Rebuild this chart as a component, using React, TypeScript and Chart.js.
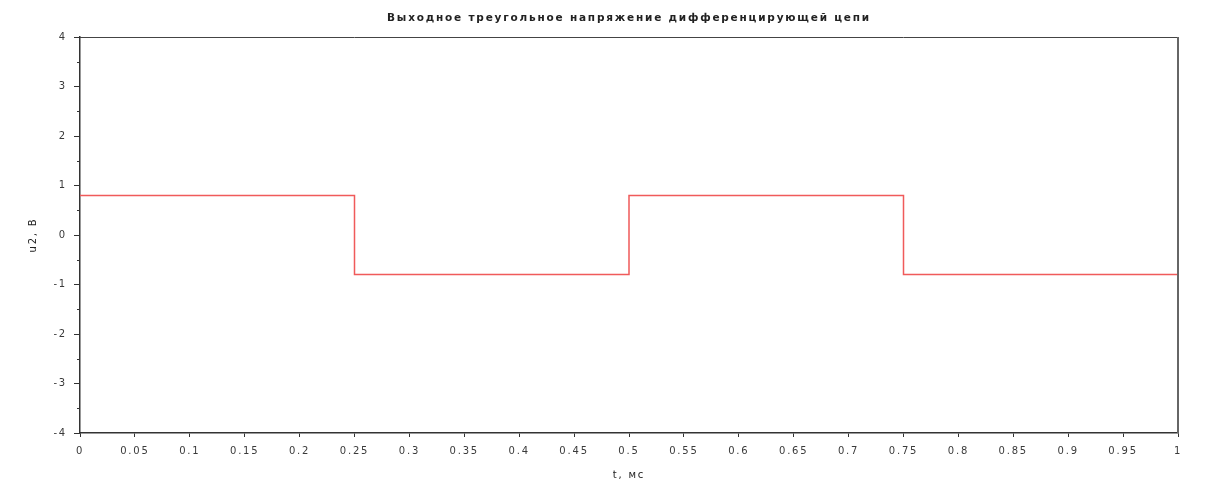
import React, { useEffect, useRef } from "react";
import { Chart, registerables } from "chart.js";

Chart.register(...registerables);

const chartTitle = "Выходное треугольное напряжение дифференцирующей цепи";
const xTitle = "t, мс";
const yTitle = "u2, В";
const times = [0, 0.25, 0.5, 0.75, 1];
const voltages = [0.8, -0.8, 0.8, -0.8, -0.8];
const yMinorTicks = [-3.5, -2.5, -1.5, -0.5, 0.5, 1.5, 2.5, 3.5];

const FONT = "DejaVu Sans";

const spacingPlugin = {
  id: "spacing",
  beforeLayout(chart: any) {
    chart.ctx.letterSpacing = "1.8px";
  },
  beforeDraw(chart: any) {
    chart.ctx.letterSpacing = "1.8px";
  },
};

const framePlugin = {
  id: "frame",
  afterDraw(chart: any) {
    const { ctx, chartArea } = chart;
    const y = chart.scales.y;
    ctx.save();
    ctx.strokeStyle = "#444";
    ctx.lineWidth = 1;
    ctx.beginPath();
    ctx.moveTo(chartArea.left, chartArea.top + 0.5);
    ctx.lineTo(chartArea.right, chartArea.top + 0.5);
    ctx.stroke();
    ctx.strokeStyle = "#666";
    ctx.lineWidth = 2;
    ctx.beginPath();
    ctx.moveTo(chartArea.right, chartArea.top);
    ctx.lineTo(chartArea.right, chartArea.bottom);
    ctx.stroke();
    ctx.strokeStyle = "#333";
    ctx.lineWidth = 1;
    ctx.beginPath();
    for (const v of yMinorTicks) {
      const py = Math.round(y.getPixelForValue(v)) + 0.5;
      ctx.moveTo(chartArea.left - 3, py);
      ctx.lineTo(chartArea.left, py);
    }
    ctx.stroke();
    ctx.restore();
  },
};

export default function App() {
  const ref = useRef<HTMLCanvasElement>(null);
  useEffect(() => {
    if (!ref.current) return;
    const chart = new Chart(ref.current, {
      type: "line",
      data: {
        datasets: [
          {
            data: times.map((t, i) => ({ x: t, y: voltages[i] })),
            borderColor: "#f05a5a",
            borderWidth: 1.5,
            pointRadius: 0,
            stepped: "before",
            fill: false,
          },
        ],
      },
      options: {
        animation: false,
        responsive: true,
        maintainAspectRatio: false,
        layout: { padding: { left: 0, right: 47, top: 0, bottom: 0 } },
        plugins: {
          legend: { display: false },
          tooltip: { enabled: false },
          title: {
            display: true,
            text: chartTitle,
            fullSize: false,
            color: "#222",
            font: { family: FONT, size: 10.5, weight: "bold", lineHeight: 1.2 },
            padding: { top: 11.5, bottom: 12.9 },
          },
        },
        scales: {
          x: {
            type: "linear",
            min: 0,
            max: 1,
            afterFit(scale: any) {
              scale.height = 53;
            },
            ticks: {
              stepSize: 0.05,
              autoSkip: false,
              maxRotation: 0,
              color: "#3a3a3a",
              padding: 8,
              font: { family: FONT, size: 10 },
              callback: (v: any) => String(Number(Number(v).toFixed(2))),
            },
            grid: { drawOnChartArea: false, tickLength: 4, color: "#333" },
            border: { display: true, color: "#333", width: 1.5 },
            title: {
              display: true,
              text: xTitle,
              color: "#222",
              font: { family: FONT, size: 10 },
              padding: { top: 0, bottom: 5 },
            },
          },
          y: {
            type: "linear",
            min: -4,
            max: 4,
            afterFit(scale: any) {
              scale.width = 80;
            },
            ticks: {
              stepSize: 1,
              color: "#3a3a3a",
              padding: 7,
              font: { family: FONT, size: 10 },
            },
            grid: { drawOnChartArea: false, tickLength: 6, color: "#333" },
            border: { display: true, color: "#333", width: 1.5 },
            title: {
              display: true,
              text: yTitle,
              color: "#222",
              font: { family: FONT, size: 10 },
              padding: { top: 27, bottom: 0 },
            },
          },
        },
      },
      plugins: [spacingPlugin, framePlugin],
    } as any);
    return () => chart.destroy();
  }, []);
  return (
    <div style={{ position: "absolute", left: 0, top: 0, width: 1225, height: 486, background: "#fff" }}>
      <canvas ref={ref} />
    </div>
  );
}
